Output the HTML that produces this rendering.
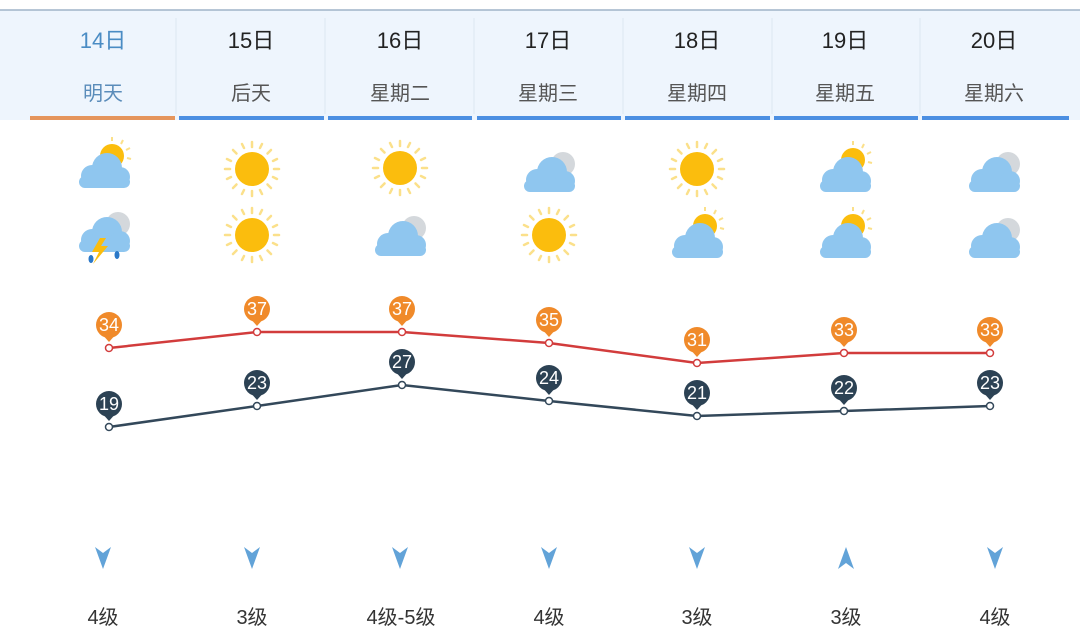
<!DOCTYPE html>
<html><head><meta charset="utf-8"><style>
body{margin:0;width:1080px;height:635px;background:#fff;overflow:hidden;font-family:"Liberation Sans","Noto Sans CJK SC",sans-serif;}
</style></head><body>
<svg width="1080" height="635" viewBox="0 0 1080 635" xmlns="http://www.w3.org/2000/svg" font-family="Liberation Sans, Noto Sans CJK SC, sans-serif">
<defs>
<g id="sun"><g stroke="#fbe08a" stroke-width="2.5" stroke-linecap="round">
<line x1="0" y1="-22" x2="0" y2="-27"/><line x1="0" y1="22" x2="0" y2="27"/><line x1="-22" y1="0" x2="-27" y2="0"/><line x1="22" y1="0" x2="27" y2="0"/>
<line x1="15.5" y1="15.5" x2="19" y2="19"/><line x1="-15.5" y1="15.5" x2="-19" y2="19"/><line x1="15.5" y1="-15.5" x2="19" y2="-19"/><line x1="-15.5" y1="-15.5" x2="-19" y2="-19"/>
<line x1="8" y1="-21" x2="10" y2="-25"/><line x1="-8" y1="-21" x2="-10" y2="-25"/><line x1="8" y1="21" x2="10" y2="25"/><line x1="-8" y1="21" x2="-10" y2="25"/>
<line x1="21" y1="8" x2="25" y2="10"/><line x1="21" y1="-8" x2="25" y2="-10"/><line x1="-21" y1="8" x2="-25" y2="10"/><line x1="-21" y1="-8" x2="-25" y2="-10"/></g>
<circle r="17" fill="#fbbd0d"/></g>
<g id="cloud" fill="#8fc6ef"><circle cx="-12" cy="4" r="11"/><circle cx="3" cy="-4" r="15"/><circle cx="16" cy="5" r="10"/><rect x="-25" y="4" width="51" height="12" rx="6"/></g>
<g id="partly"><circle cx="8" cy="-12" r="12" fill="#fbbd0d"/><g stroke="#fbe08a" stroke-width="2"><line x1="8" y1="-27" x2="8" y2="-31"/><line x1="22" y1="-18" x2="26" y2="-20"/><line x1="23" y1="-10" x2="27" y2="-9"/><line x1="17" y1="-24" x2="19" y2="-28"/></g><use href="#cloud" y="4"/></g>
<g id="cloudy"><circle cx="14" cy="-8" r="12" fill="#d4d8dc"/><use href="#cloud" y="4"/></g>
<g id="pinO" fill="#f08a2a"><circle cy="-23" r="13"/><path d="M-8,-15 L8,-15 L0,-6Z"/></g>
<g id="pinD" fill="#2c4254"><circle cy="-23" r="13"/><path d="M-8,-15 L8,-15 L0,-6Z"/></g>
</defs>
<rect x="0" y="10" width="1080" height="110" fill="#eef5fd"/>
<line x1="0" y1="10" x2="1080" y2="10" stroke="#9fb4c8" stroke-width="1.5"/>
<g stroke="#e2ebf5" stroke-width="1.5"><line x1="176" y1="18" x2="176" y2="114"/><line x1="325" y1="18" x2="325" y2="114"/><line x1="474" y1="18" x2="474" y2="114"/><line x1="623" y1="18" x2="623" y2="114"/><line x1="772" y1="18" x2="772" y2="114"/><line x1="920" y1="18" x2="920" y2="114"/></g>
<rect x="30" y="116" width="145" height="4" fill="#e5955c"/>
<g fill="#4c8fe2"><rect x="179" y="116" width="145" height="4"/><rect x="328" y="116" width="144" height="4"/><rect x="477" y="116" width="144" height="4"/><rect x="625" y="116" width="145" height="4"/><rect x="774" y="116" width="144" height="4"/><rect x="922" y="116" width="147" height="4"/></g>
<g font-size="22" text-anchor="middle" fill="#222">
<text x="103" y="48" fill="#4a8cc4">14日</text><text x="251" y="48">15日</text><text x="400" y="48">16日</text><text x="548" y="48">17日</text><text x="697" y="48">18日</text><text x="845" y="48">19日</text><text x="994" y="48">20日</text></g>
<g font-size="20" text-anchor="middle" fill="#555">
<text x="103" y="100" fill="#5a8cba">明天</text><text x="251" y="100">后天</text><text x="400" y="100">星期二</text><text x="548" y="100">星期三</text><text x="697" y="100">星期四</text><text x="845" y="100">星期五</text><text x="994" y="100">星期六</text></g>
<use href="#partly" x="104" y="168"/>
<use href="#cloudy" x="104" y="232"/>
<path d="M100,238 L92,252 L99,252 L93,264 L108,246 L101,246 L106,238Z" fill="#fbbd0d"/>
<ellipse cx="91" cy="259" rx="2.5" ry="4" fill="#2a78c8"/><ellipse cx="117" cy="255" rx="2.5" ry="4" fill="#2a78c8"/>
<use href="#sun" x="252" y="169"/><use href="#sun" x="252" y="235"/>
<use href="#sun" x="400" y="168"/><use href="#cloudy" x="400" y="236"/>
<use href="#cloudy" x="549" y="172"/><use href="#sun" x="549" y="235"/>
<use href="#sun" x="697" y="169"/><use href="#partly" x="697" y="238"/>
<use href="#partly" x="845" y="172"/><use href="#partly" x="845" y="238"/>
<use href="#cloudy" x="994" y="172"/><use href="#cloudy" x="994" y="238"/>
<polyline points="109,348 257,332 402,332 549,343 697,363 844,353 990,353" fill="none" stroke="#d23c3c" stroke-width="2.5"/>
<polyline points="109,427 257,406 402,385 549,401 697,416 844,411 990,406" fill="none" stroke="#33485a" stroke-width="2.5"/>
<g font-size="18" text-anchor="middle" fill="#fff">
<use href="#pinO" x="109" y="348"/><text x="109" y="331">34</text>
<use href="#pinO" x="257" y="332"/><text x="257" y="315">37</text>
<use href="#pinO" x="402" y="332"/><text x="402" y="315">37</text>
<use href="#pinO" x="549" y="343"/><text x="549" y="326">35</text>
<use href="#pinO" x="697" y="363"/><text x="697" y="346">31</text>
<use href="#pinO" x="844" y="353"/><text x="844" y="336">33</text>
<use href="#pinO" x="990" y="353"/><text x="990" y="336">33</text>
<use href="#pinD" x="109" y="427"/><text x="109" y="410">19</text>
<use href="#pinD" x="257" y="406"/><text x="257" y="389">23</text>
<use href="#pinD" x="402" y="385"/><text x="402" y="368">27</text>
<use href="#pinD" x="549" y="401"/><text x="549" y="384">24</text>
<use href="#pinD" x="697" y="416"/><text x="697" y="399">21</text>
<use href="#pinD" x="844" y="411"/><text x="844" y="394">22</text>
<use href="#pinD" x="990" y="406"/><text x="990" y="389">23</text>
</g>
<g fill="#fff" stroke-width="1.5">
<circle cx="109" cy="348" r="3.5" stroke="#d23c3c"/><circle cx="257" cy="332" r="3.5" stroke="#d23c3c"/><circle cx="402" cy="332" r="3.5" stroke="#d23c3c"/><circle cx="549" cy="343" r="3.5" stroke="#d23c3c"/><circle cx="697" cy="363" r="3.5" stroke="#d23c3c"/><circle cx="844" cy="353" r="3.5" stroke="#d23c3c"/><circle cx="990" cy="353" r="3.5" stroke="#d23c3c"/>
<circle cx="109" cy="427" r="3.5" stroke="#33485a"/><circle cx="257" cy="406" r="3.5" stroke="#33485a"/><circle cx="402" cy="385" r="3.5" stroke="#33485a"/><circle cx="549" cy="401" r="3.5" stroke="#33485a"/><circle cx="697" cy="416" r="3.5" stroke="#33485a"/><circle cx="844" cy="411" r="3.5" stroke="#33485a"/><circle cx="990" cy="406" r="3.5" stroke="#33485a"/>
</g>
<g fill="#62a3d8">
<path transform="translate(103,558)" d="M-8,-11 L0,-5 L8,-11 L0,11Z"/>
<path transform="translate(252,558)" d="M-8,-11 L0,-5 L8,-11 L0,11Z"/>
<path transform="translate(400,558)" d="M-8,-11 L0,-5 L8,-11 L0,11Z"/>
<path transform="translate(549,558)" d="M-8,-11 L0,-5 L8,-11 L0,11Z"/>
<path transform="translate(697,558)" d="M-8,-11 L0,-5 L8,-11 L0,11Z"/>
<path transform="translate(846,558)" d="M-8,11 L0,5 L8,11 L0,-11Z"/>
<path transform="translate(995,558)" d="M-8,-11 L0,-5 L8,-11 L0,11Z"/>
</g>
<g font-size="20" text-anchor="middle" fill="#333">
<text x="103" y="624">4级</text><text x="252" y="624">3级</text><text x="401" y="624">4级-5级</text><text x="549" y="624">4级</text><text x="697" y="624">3级</text><text x="846" y="624">3级</text><text x="995" y="624">4级</text></g>
</svg>
</body></html>
